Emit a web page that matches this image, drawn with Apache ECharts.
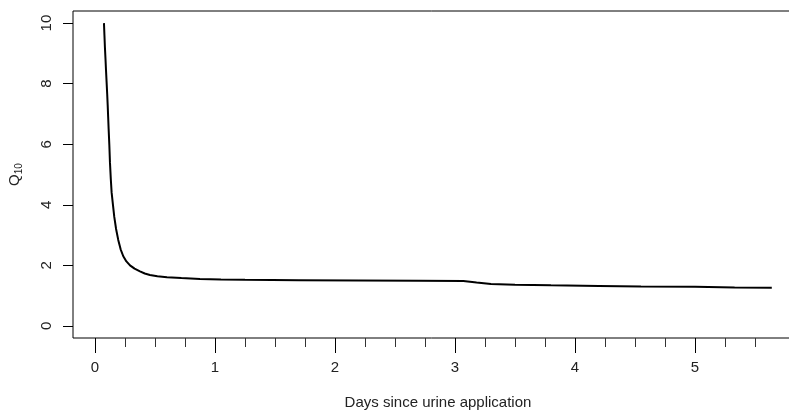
<!DOCTYPE html>
<html>
<head>
<meta charset="utf-8">
<script src="https://cdn.jsdelivr.net/npm/echarts@6/dist/echarts.min.js"></script>
<style>
  html, body { margin: 0; padding: 0; background: #fff; }
  #chart { width: 789px; height: 412px; }
</style>
</head>
<body>
<div id="chart"></div>
<script>
// Data
const days = [0.075, 0.079, 0.083, 0.088, 0.092, 0.097, 0.102, 0.106, 0.110, 0.114, 0.120, 0.125, 0.132, 0.139, 0.150, 0.161, 0.176, 0.194, 0.214, 0.236, 0.262, 0.292, 0.33, 0.375, 0.415, 0.458, 0.52, 0.6, 0.72, 0.875, 1.05, 1.25, 1.7, 2.2, 2.7, 3.07, 3.18, 3.3, 3.5, 3.8, 4.2, 4.55, 5.0, 5.33, 5.64];
const q10  = [10.0, 9.6, 9.2, 8.8, 8.45, 8.05, 7.65, 7.3, 6.9, 6.5, 5.95, 5.4, 4.85, 4.4, 4.0, 3.6, 3.2, 2.84, 2.53, 2.3, 2.13, 2.0, 1.89, 1.8, 1.73, 1.68, 1.64, 1.61, 1.58, 1.55, 1.535, 1.52, 1.51, 1.50, 1.49, 1.48, 1.43, 1.38, 1.36, 1.34, 1.32, 1.30, 1.29, 1.265, 1.26];
const xMajorTicks = [0, 1, 2, 3, 4, 5];
const xMinorTicks = [0.25, 0.5, 0.75, 1.25, 1.5, 1.75, 2.25, 2.5, 2.75, 3.25, 3.5, 3.75, 4.25, 4.5, 4.75, 5.25, 5.5];
const yTicks = [0, 2, 4, 6, 8, 10];
const xTitle = 'Days since urine application';

const FONT = "'Liberation Sans', Arial, sans-serif";
const chart = echarts.init(document.getElementById('chart'), null, { renderer: 'canvas' });

const XMIN = -0.183, XMAX = 5.9, YMIN = -0.4, YMAX = 10.4;

chart.setOption({
  animation: false,
  backgroundColor: '#fff',
  grid: {
    left: 73, top: 11, width: 730, height: 327,
    outerBoundsMode: 'none', containLabel: false,
    show: true, borderColor: '#000', borderWidth: 1, backgroundColor: 'transparent'
  },
  xAxis: [
    {
      type: 'value', min: XMIN, max: XMAX, position: 'bottom',
      axisLine: { show: false, onZero: false },
      splitLine: { show: false },
      axisTick: { show: true, inside: false, customValues: xMajorTicks, length: 15, lineStyle: { color: '#000', width: 1 } },
      axisLabel: {
        show: true, customValues: xMajorTicks, margin: 22,
        fontFamily: FONT, fontSize: 15, color: '#222',
        formatter: v => String(v)
      },
      name: xTitle, nameLocation: 'middle', nameGap: 57,
      nameTextStyle: { fontFamily: FONT, fontSize: 15, color: '#222' }
    },
    {
      type: 'value', min: XMIN, max: XMAX, position: 'bottom',
      axisLine: { show: false, onZero: false },
      splitLine: { show: false },
      axisTick: { show: true, inside: false, customValues: xMinorTicks, length: 9, lineStyle: { color: '#333', width: 1 } },
      axisLabel: { show: false }
    }
  ],
  yAxis: {
    type: 'value', min: YMIN, max: YMAX, position: 'left',
    axisLine: { show: false, onZero: false },
    splitLine: { show: false },
    axisTick: { show: true, inside: false, customValues: yTicks, length: 10, lineStyle: { color: '#000', width: 1 } },
    axisLabel: {
      show: true, customValues: yTicks, rotate: 90, margin: 19,
      fontFamily: FONT, fontSize: 15, color: '#222',
      formatter: v => String(v)
    },
    name: '{a|Q}{b|10}', nameLocation: 'middle', nameGap: 49, nameRotate: 90,
    nameTextStyle: {
      fontFamily: FONT, color: '#222',
      rich: {
        a: { fontFamily: FONT, fontSize: 15, lineHeight: 18, color: '#222' },
        b: { fontFamily: FONT, fontSize: 10, lineHeight: 10, verticalAlign: 'bottom', color: '#222' }
      }
    }
  },
  series: [{
    type: 'line',
    xAxisIndex: 0,
    data: days.map((d, i) => [d, q10[i]]),
    showSymbol: false,
    lineStyle: { color: '#000', width: 2 },
    smooth: false
  }]
});
</script>
</body>
</html>
